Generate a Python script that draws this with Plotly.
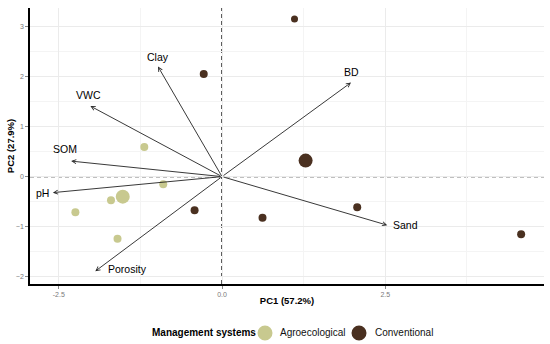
import plotly.graph_objects as go

# Scores
agro_pc1 = [-1.19, -0.90, -1.52, -1.70, -2.245, -1.60]
agro_pc2 = [0.59, -0.15, -0.40, -0.47, -0.71, -1.24]
agro_size = [8, 8, 14, 8, 8, 8]

conv_pc1 = [1.11, -0.28, 1.28, -0.42, 0.62, 2.07, 4.58]
conv_pc2 = [3.15, 2.05, 0.32, -0.67, -0.82, -0.61, -1.15]
conv_size = [7, 8, 14, 8, 8, 8, 8]

# Loadings
var_names = ["Clay", "VWC", "SOM", "pH", "Porosity", "BD", "Sand"]
var_pc1 = [-0.98, -2.015, -2.31, -2.59, -1.94, 1.975, 2.53]
var_pc2 = [2.20, 1.41, 0.31, -0.32, -1.89, 1.88, -0.97]

x_ticks = [-2.5, 0.0, 2.5]
x_tick_text = ["-2.5", "0.0", "2.5"]
y_ticks = [-2, -1, 0, 1, 2, 3]

legend_title = "Management systems"
group_names = ["Agroecological", "Conventional"]

agro_color = "#c8c98f"
conv_color = "#4a3020"
group_colors = [agro_color, conv_color]

fig = go.Figure()

# zero lines
fig.add_shape(type="line", x0=0, x1=0, y0=0, y1=1, xref="x", yref="paper", layer="below",
              line=dict(color="black", width=1.3, dash="4px,3px"))
fig.add_shape(type="line", x0=0, x1=1, y0=0, y1=0, xref="paper", yref="y", layer="below",
              line=dict(color="black", width=1.1, dash="4px,3px"))

fig.add_trace(go.Scatter(x=agro_pc1, y=agro_pc2, mode="markers", name=group_names[0],
                         marker=dict(color=agro_color, size=agro_size, opacity=1, line=dict(width=0)),
                         showlegend=False, hoverinfo="skip"))
fig.add_trace(go.Scatter(x=conv_pc1, y=conv_pc2, mode="markers", name=group_names[1],
                         marker=dict(color=conv_color, size=conv_size, opacity=1, line=dict(width=0)),
                         showlegend=False, hoverinfo="skip"))

# arrows and labels
label_style = {
    "Clay": dict(xanchor="center", yanchor="bottom", xshift=0, yshift=2),
    "VWC": dict(xanchor="center", yanchor="bottom", xshift=-2, yshift=3),
    "SOM": dict(xanchor="center", yanchor="bottom", xshift=-6, yshift=4),
    "pH": dict(xanchor="right", yanchor="middle", xshift=-2, yshift=0),
    "Porosity": dict(xanchor="left", yanchor="middle", xshift=11, yshift=2),
    "BD": dict(xanchor="center", yanchor="bottom", xshift=0, yshift=3),
    "Sand": dict(xanchor="left", yanchor="middle", xshift=4, yshift=0),
}
for name, vx, vy in zip(var_names, var_pc1, var_pc2):
    fig.add_annotation(x=vx, y=vy, ax=0, ay=0, xref="x", yref="y", axref="x", ayref="y",
                       showarrow=True, arrowhead=5, arrowsize=0.9, arrowwidth=0.9,
                       arrowcolor="#222222", text="")
    st = label_style[name]
    fig.add_annotation(x=vx, y=vy, xref="x", yref="y", text=name, showarrow=False,
                       font=dict(size=10.5, color="black", family="Liberation Sans, Arial"),
                       **st)

# manual legend
leg_y = -0.1775
fig.add_annotation(x=0.2335, y=leg_y, xref="paper", yref="paper", xanchor="left",
                   yanchor="middle", showarrow=False, text="<b>" + legend_title + "</b>",
                   font=dict(size=10, color="black"))
circle_x = [0.4572, 0.6401]
text_x = [0.4825, 0.6673]
for gname, gcol, cx, tx in zip(group_names, group_colors, circle_x, text_x):
    fig.add_shape(type="circle", xref="paper", yref="paper", xsizemode="pixel",
                  ysizemode="pixel", xanchor=cx, yanchor=leg_y,
                  x0=-7.5, x1=7.5, y0=-7.5, y1=7.5,
                  fillcolor=gcol, line=dict(width=0))
    fig.add_annotation(x=tx, y=leg_y, xref="paper", yref="paper", xanchor="left",
                       yanchor="middle", showarrow=False, text=gname,
                       font=dict(size=10, color="#111111"))

fig.update_layout(
    width=550, height=344,
    margin=dict(l=30, r=6, t=8, b=60, autoexpand=False),
    plot_bgcolor="white", paper_bgcolor="white",
    showlegend=False,
    font=dict(family="Liberation Sans, Arial", color="black"),
    xaxis=dict(range=[-2.94, 4.93], tickvals=x_ticks, ticktext=x_tick_text,
               automargin=False,
               showgrid=True, gridcolor="#ebebeb", gridwidth=1,
               minor=dict(dtick=1.25, tick0=0, showgrid=True, gridcolor="#f4f4f4", gridwidth=0.6),
               zeroline=False, showline=True, linecolor="black", linewidth=1.5,
               ticks="outside", ticklen=3, tickcolor="#888888",
               tickfont=dict(size=7, color="#7a7a7a"),
               title=dict(text="<b>PC1 (57.2%)</b>", font=dict(size=9.5), standoff=0)),
    yaxis=dict(range=[-2.146, 3.37], tickvals=y_ticks,
               automargin=False,
               showgrid=True, gridcolor="#ebebeb", gridwidth=1,
               minor=dict(dtick=0.5, tick0=0, showgrid=True, gridcolor="#f4f4f4", gridwidth=0.6),
               zeroline=False, showline=True, linecolor="black", linewidth=1.5,
               ticks="outside", ticklen=3, tickcolor="#888888",
               tickfont=dict(size=7, color="#7a7a7a"),
               title=dict(text="<b>PC2 (27.9%)</b>", font=dict(size=9.5), standoff=0)),
)

fig.write_html("out.html", config={"displayModeBar": False},
               post_script="document.body.style.margin='0';document.body.style.overflow='hidden';")
